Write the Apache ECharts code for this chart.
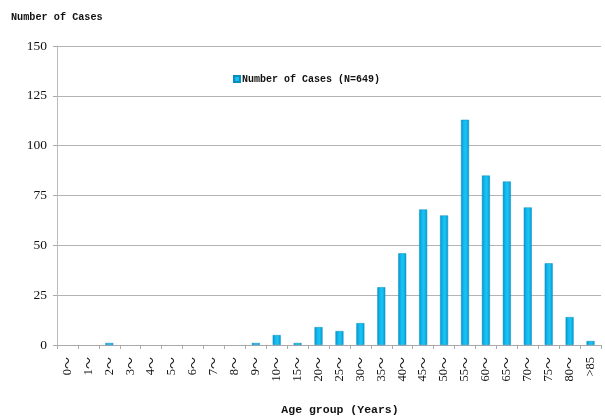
<!DOCTYPE html>
<html>
<head>
<meta charset="utf-8">
<script src="https://cdn.jsdelivr.net/npm/echarts@6/dist/echarts.min.js"></script>
<style>
  html, body { margin: 0; padding: 0; background: #fff; }
  #chart { width: 605px; height: 417px; }
</style>
</head>
<body>
<div id="chart"></div>
<script>
// Age groups (years) and case counts per group
const ageGroups = ['0～', '1～', '2～', '3～', '4～', '5～', '6～', '7～', '8～', '9～',
  '10～', '15～', '20～', '25～', '30～', '35～', '40～', '45～', '50～', '55～',
  '60～', '65～', '70～', '75～', '80～', '>85'];
const caseCounts = [0, 0, 1, 0, 0, 0, 0, 0, 0, 1,
  5, 1, 9, 7, 11, 29, 46, 68, 65, 113,
  85, 82, 69, 41, 14, 2];
const seriesName = 'Number of Cases (N=649)';
const yTicks = [0, 25, 50, 75, 100, 125, 150];

const monoFont = '"Liberation Mono", "DejaVu Sans Mono", monospace';
const serifFont = '"Liberation Serif", "Noto Sans CJK SC", serif';
const cjkFont = '"Noto Sans CJK SC", "Noto Sans CJK JP", sans-serif';

const chart = echarts.init(document.getElementById('chart'), null, { renderer: 'canvas' });

const barFill = new echarts.graphic.LinearGradient(0, 0, 1, 0, [
  { offset: 0, color: '#0a94c8' },
  { offset: 0.35, color: '#10baf0' },
  { offset: 0.6, color: '#1ac4f6' },
  { offset: 1, color: '#0a98cc' }
]);

// empty groups get no bar at all
const barData = caseCounts.map(v => (v === 0 ? null : v));

chart.setOption({
  animation: false,
  backgroundColor: '#ffffff',
  grid: { left: 57, right: 4, top: 46, bottom: 72, outerBoundsMode: 'none', containLabel: false },
  title: {
    text: 'Number of Cases',
    left: 6,
    top: 7,
    textStyle: { fontFamily: monoFont, fontSize: 10.2, fontWeight: 'bold', color: '#111' }
  },
  legend: {
    data: [seriesName],
    left: 228,
    top: 69,
    itemWidth: 6,
    itemHeight: 6,
    itemGap: 2,
    textStyle: { fontFamily: monoFont, fontSize: 10, fontWeight: 'bold', color: '#111', padding: [0, 0, 0, -3] },
    icon: 'rect'
  },
  xAxis: {
    type: 'category',
    data: ageGroups,
    name: 'Age group (Years)',
    nameLocation: 'middle',
    nameGap: 59,
    nameTextStyle: { fontFamily: monoFont, fontSize: 11.5, fontWeight: 'bold', color: '#111', padding: [0, 0, 0, 22] },
    axisLine: { lineStyle: { color: '#aaaaaa', width: 1 } },
    axisTick: { show: true, alignWithLabel: false, length: 4, lineStyle: { color: '#aaaaaa' } },
    axisLabel: {
      rotate: 90,
      interval: 0,
      margin: 12,
      fontFamily: serifFont,
      fontSize: 12.5,
      color: '#111',
      // full-width wave dash set in a CJK face
      formatter: v => v.replace('～', '{t|～}'),
      rich: {
        t: { fontFamily: cjkFont, fontSize: 12, color: '#111' }
      }
    }
  },
  yAxis: {
    type: 'value',
    min: yTicks[0],
    max: yTicks[yTicks.length - 1],
    interval: 25,
    axisLine: { show: true, lineStyle: { color: '#bbbbbb', width: 1 } },
    axisTick: { show: true, length: 4, lineStyle: { color: '#aaaaaa' } },
    axisLabel: { fontFamily: serifFont, fontSize: 13.5, color: '#111', margin: 10 },
    splitLine: { lineStyle: { color: '#b4b4b4', width: 1 } }
  },
  series: [{
    name: seriesName,
    type: 'bar',
    data: barData,
    barWidth: 8,
    itemStyle: {
      color: barFill,
      borderColor: '#0b8cbe',
      borderWidth: 0.5
    }
  }]
});
</script>
</body>
</html>
